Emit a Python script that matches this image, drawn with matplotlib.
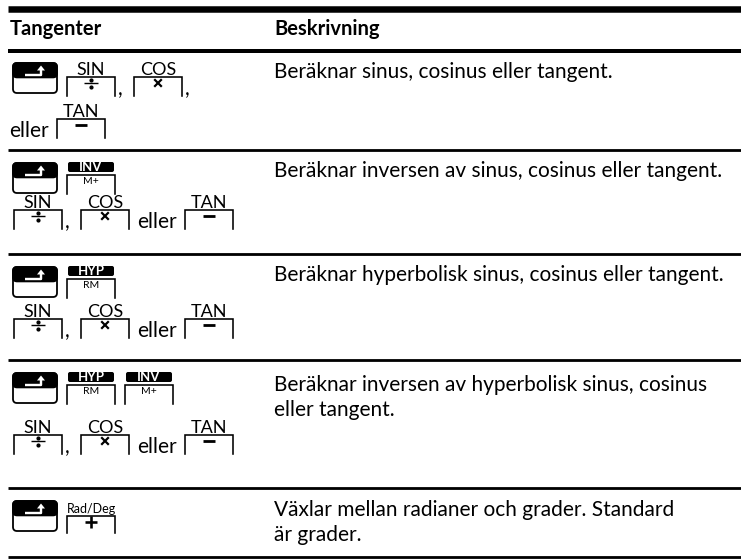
import matplotlib.pyplot as plt
from matplotlib.patches import FancyBboxPatch, Rectangle, Polygon

plt.rcParams['font.family'] = ['Lato', 'DejaVu Sans']

# table content
headers = ["Tangenter", "Beskrivning"]
descriptions = [
    "Beräknar sinus, cosinus eller tangent.",
    "Beräknar inversen av sinus, cosinus eller tangent.",
    "Beräknar hyperbolisk sinus, cosinus eller tangent.",
    "Beräknar inversen av hyperbolisk sinus, cosinus\neller tangent.",
    "Växlar mellan radianer och grader. Standard\när grader.",
]
trig_line = [("key", "SIN", "÷"), (",",), ("key", "COS", "×"),
             ("txt", "eller"), ("key", "TAN", "−")]
key_lines = [
    [[("shift",), ("key", "SIN", "÷"), (",",), ("key", "COS", "×"), (",",)],
     [("txt", "eller"), ("key", "TAN", "−")]],
    [[("shift",), ("fkey", "INV", "M+")], trig_line],
    [[("shift",), ("fkey", "HYP", "RM")], trig_line],
    [[("shift",), ("fkey", "HYP", "RM"), ("fkey", "INV", "M+")], trig_line],
    [[("shift",), ("skey", "Rad/Deg", "+")]],
]

# layout (pixels, y going down)
W, H = 741, 559
rule_y = [150, 254, 360, 488]
line_tops = [[62, 104], [162, 195], [266, 304], [372, 420], [500]]
desc_base = [78, 177, 281, 391, 516]
desc_x = 274
KW = 48
FS = 15

fig = plt.figure(figsize=(W / 100, H / 100), dpi=100)
ax = fig.add_axes([0, 0, 1, 1])
ax.set_xlim(0, W)
ax.set_ylim(H, 0)
ax.axis('off')


def px(v):
    return v * 0.72


def shift_key(x, ty):
    w, h, y = 44, 30, ty + 1
    ax.add_patch(FancyBboxPatch((x, y), w, h, boxstyle="round,pad=0,rounding_size=4",
                                fc="white", ec="black", lw=px(1.8)))
    ax.add_patch(FancyBboxPatch((x, y), w, h * 0.48, boxstyle="round,pad=0,rounding_size=4",
                                fc="black", ec="black", lw=px(1.8)))
    ax.add_patch(Rectangle((x, y + h * 0.48 - 4), w, 4, fc="black", ec="none"))
    ax.plot([x + 12, x + 28, x + 28], [y + 11.5, y + 11.5, y + 7], color="white",
            lw=px(2.4), solid_capstyle="butt")
    ax.add_patch(Polygon([[x + 24, y + 7.5], [x + 32, y + 7.5], [x + 28, y + 2.5]],
                         closed=True, fc="white", ec="none"))


def box(x, top, bottom):
    ax.plot([x, x, x + KW, x + KW], [bottom, top, top, bottom], color="black",
            lw=px(1.6), solid_joinstyle="miter")


def symbol(cx, cy, s):
    if s == "−":
        ax.plot([cx - 6, cx + 6], [cy, cy], color="black", lw=px(2.8), solid_capstyle="butt")
    elif s == "÷":
        ax.plot([cx - 7, cx + 7], [cy, cy], color="black", lw=px(1.4), solid_capstyle="butt")
        ax.plot([cx, cx], [cy - 3.5, cy + 3.5], ls="none", marker="o", ms=2, color="black")
    elif s == "×":
        ax.plot([cx - 3, cx + 3], [cy - 3, cy + 3], color="black", lw=px(2.2))
        ax.plot([cx - 3, cx + 3], [cy + 3, cy - 3], color="black", lw=px(2.2))
    elif s == "+":
        ax.plot([cx - 6, cx + 6], [cy, cy], color="black", lw=px(2.6), solid_capstyle="butt")
        ax.plot([cx, cx], [cy - 6, cy + 6], color="black", lw=px(2.6), solid_capstyle="butt")


def draw_line(tokens, x, ty):
    for i, tok in enumerate(tokens):
        kind = tok[0]
        if kind == "shift":
            shift_key(x, ty)
            x += 54
        elif kind == "key":
            ax.text(x + KW / 2, ty + 13, tok[1], fontsize=13, ha="center", va="baseline")
            box(x, ty + 15, ty + 34)
            symbol(x + KW / 2, ty + 21, tok[2])
            x += KW + 8
            if i + 1 < len(tokens) and tokens[i + 1][0] == ",":
                x -= 5
        elif kind == "fkey":
            ax.add_patch(FancyBboxPatch((x + 1, ty), KW - 2, 10,
                                        boxstyle="round,pad=0,rounding_size=2",
                                        fc="black", ec="none"))
            ax.text(x + KW / 2, ty + 5.3, tok[1], fontsize=9.5, fontweight="bold",
                    color="white", ha="center", va="center")
            box(x, ty + 13, ty + 32)
            ax.text(x + KW / 2, ty + 19, tok[2], fontsize=7.5, ha="center", va="center")
            x += KW + 10
        elif kind == "skey":
            ax.text(x + KW / 2, ty + 13, tok[1], fontsize=9, ha="center", va="baseline")
            box(x, ty + 16, ty + 33)
            symbol(x + KW / 2, ty + 22, tok[2])
            x += KW + 10
        elif kind == ",":
            ax.text(x, ty + 33, ",", fontsize=FS, ha="left", va="baseline")
            x += 16
        elif kind == "txt":
            ax.text(x, ty + 33, tok[1], fontsize=FS, ha="left", va="baseline")
            x += 48


# rules
ax.plot([8, W], [8.5, 8.5], color="black", lw=px(6.5), solid_capstyle="butt")
ax.plot([8, W], [50.5, 50.5], color="black", lw=px(4), solid_capstyle="butt")
for y in rule_y:
    ax.plot([8, W], [y, y], color="black", lw=px(2.8), solid_capstyle="butt")
ax.plot([8, W], [556.5, 556.5], color="black", lw=px(2.8), solid_capstyle="butt")

# header
ax.text(10, 35, headers[0], fontsize=14.5, fontweight="bold", ha="left", va="baseline")
ax.text(desc_x, 35, headers[1], fontsize=14.5, fontweight="bold", ha="left", va="baseline")

# rows
for r, desc in enumerate(descriptions):
    for k, part in enumerate(desc.split("\n")):
        ax.text(desc_x, desc_base[r] + 25 * k, part, fontsize=FS, ha="left", va="baseline")
    for li, tokens in enumerate(key_lines[r]):
        x0 = 13 if tokens[0][0] == "shift" else (9 if r == 0 else 14)
        draw_line(tokens, x0, line_tops[r][li])

fig.savefig("out.png", dpi=100)
